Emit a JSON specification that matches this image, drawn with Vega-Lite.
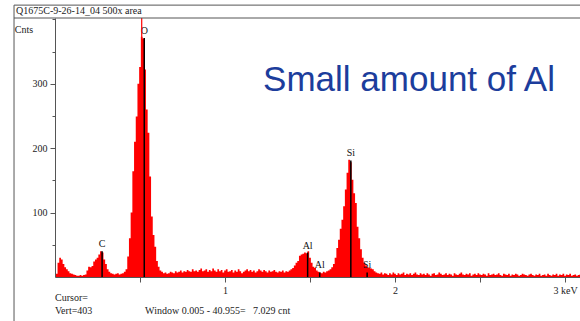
{
  "$schema": "https://vega.github.io/schema/vega-lite/v6.json",
  "width": 525,
  "height": 259,
  "autosize": {"type": "none"},
  "padding": {"left": 55, "top": 18, "right": 0, "bottom": 44},
  "background": "white",
  "config": {"view": {"stroke": null}, "font": "Liberation Serif"},
  "resolve": {"axis": {"x": "independent", "y": "independent"}},
  "datasets": {
    "spectrum": [
      {"e":0.00,"c":0},{"e":0.01,"c":5},{"e":0.02,"c":22},{"e":0.03,"c":30},{"e":0.04,"c":27},{"e":0.05,"c":20},{"e":0.06,"c":15},{"e":0.07,"c":12},{"e":0.08,"c":9},{"e":0.09,"c":6},
      {"e":0.10,"c":5},{"e":0.11,"c":4},{"e":0.12,"c":3},{"e":0.13,"c":2},{"e":0.14,"c":2},{"e":0.15,"c":3},{"e":0.16,"c":2},{"e":0.17,"c":3},{"e":0.18,"c":4},{"e":0.19,"c":10},
      {"e":0.20,"c":16},{"e":0.21,"c":15},{"e":0.22,"c":17},{"e":0.23,"c":24},{"e":0.24,"c":27},{"e":0.25,"c":30},{"e":0.26,"c":35},{"e":0.27,"c":40},{"e":0.28,"c":38},{"e":0.29,"c":27},
      {"e":0.30,"c":20},{"e":0.31,"c":12},{"e":0.32,"c":8},{"e":0.33,"c":6},{"e":0.34,"c":5},{"e":0.35,"c":4},{"e":0.36,"c":5},{"e":0.37,"c":6},{"e":0.38,"c":4},{"e":0.39,"c":5},
      {"e":0.40,"c":6},{"e":0.41,"c":8},{"e":0.42,"c":12},{"e":0.43,"c":32},{"e":0.44,"c":60},{"e":0.45,"c":100},{"e":0.46,"c":164},{"e":0.47,"c":210},{"e":0.48,"c":249},{"e":0.49,"c":300},
      {"e":0.50,"c":326},{"e":0.51,"c":373},{"e":0.52,"c":370},{"e":0.53,"c":322},{"e":0.54,"c":260},{"e":0.55,"c":224},{"e":0.56,"c":156},{"e":0.57,"c":94},{"e":0.58,"c":65},{"e":0.59,"c":47},
      {"e":0.60,"c":25},{"e":0.61,"c":16},{"e":0.62,"c":10},{"e":0.63,"c":8},{"e":0.64,"c":6},{"e":0.65,"c":7},{"e":0.66,"c":5},{"e":0.67,"c":6},{"e":0.68,"c":8},{"e":0.69,"c":7},
      {"e":0.70,"c":6},{"e":0.71,"c":9},{"e":0.72,"c":7},{"e":0.73,"c":8},{"e":0.74,"c":10},{"e":0.75,"c":7},{"e":0.76,"c":9},{"e":0.77,"c":8},{"e":0.78,"c":11},{"e":0.79,"c":9},
      {"e":0.80,"c":8},{"e":0.81,"c":12},{"e":0.82,"c":9},{"e":0.83,"c":10},{"e":0.84,"c":8},{"e":0.85,"c":11},{"e":0.86,"c":13},{"e":0.87,"c":9},{"e":0.88,"c":10},{"e":0.89,"c":12},
      {"e":0.90,"c":8},{"e":0.91,"c":11},{"e":0.92,"c":9},{"e":0.93,"c":13},{"e":0.94,"c":10},{"e":0.95,"c":8},{"e":0.96,"c":12},{"e":0.97,"c":9},{"e":0.98,"c":11},{"e":0.99,"c":7},
      {"e":1.00,"c":10},{"e":1.01,"c":12},{"e":1.02,"c":8},{"e":1.03,"c":9},{"e":1.04,"c":11},{"e":1.05,"c":7},{"e":1.06,"c":10},{"e":1.07,"c":8},{"e":1.08,"c":12},{"e":1.09,"c":9},
      {"e":1.10,"c":6},{"e":1.11,"c":8},{"e":1.12,"c":10},{"e":1.13,"c":12},{"e":1.14,"c":9},{"e":1.15,"c":11},{"e":1.16,"c":8},{"e":1.17,"c":10},{"e":1.18,"c":7},{"e":1.19,"c":9},
      {"e":1.20,"c":12},{"e":1.21,"c":10},{"e":1.22,"c":8},{"e":1.23,"c":11},{"e":1.24,"c":9},{"e":1.25,"c":7},{"e":1.26,"c":10},{"e":1.27,"c":8},{"e":1.28,"c":9},{"e":1.29,"c":11},
      {"e":1.30,"c":8},{"e":1.31,"c":7},{"e":1.32,"c":9},{"e":1.33,"c":8},{"e":1.34,"c":10},{"e":1.35,"c":7},{"e":1.36,"c":9},{"e":1.37,"c":8},{"e":1.38,"c":10},{"e":1.39,"c":12},
      {"e":1.40,"c":14},{"e":1.41,"c":18},{"e":1.42,"c":22},{"e":1.43,"c":25},{"e":1.44,"c":33},{"e":1.45,"c":35},{"e":1.46,"c":36},{"e":1.47,"c":38},{"e":1.48,"c":37},{"e":1.49,"c":40},
      {"e":1.50,"c":30},{"e":1.51,"c":22},{"e":1.52,"c":16},{"e":1.53,"c":14},{"e":1.54,"c":10},{"e":1.55,"c":8},{"e":1.56,"c":7},{"e":1.57,"c":6},{"e":1.58,"c":8},{"e":1.59,"c":7},
      {"e":1.60,"c":9},{"e":1.61,"c":10},{"e":1.62,"c":12},{"e":1.63,"c":15},{"e":1.64,"c":20},{"e":1.65,"c":30},{"e":1.66,"c":45},{"e":1.67,"c":58},{"e":1.68,"c":75},{"e":1.69,"c":89},
      {"e":1.70,"c":110},{"e":1.71,"c":136},{"e":1.72,"c":162},{"e":1.73,"c":182},{"e":1.74,"c":178},{"e":1.75,"c":151},{"e":1.76,"c":130},{"e":1.77,"c":115},{"e":1.78,"c":78},{"e":1.79,"c":60},
      {"e":1.80,"c":43},{"e":1.81,"c":30},{"e":1.82,"c":22},{"e":1.83,"c":18},{"e":1.84,"c":15},{"e":1.85,"c":14},{"e":1.86,"c":13},{"e":1.87,"c":12},{"e":1.88,"c":9},{"e":1.89,"c":7},
      {"e":1.90,"c":6},{"e":1.91,"c":5},{"e":1.92,"c":7},{"e":1.93,"c":4},{"e":1.94,"c":6},{"e":1.95,"c":5},{"e":1.96,"c":3},{"e":1.97,"c":6},{"e":1.98,"c":4},{"e":1.99,"c":7},
      {"e":2.00,"c":5},{"e":2.01,"c":3},{"e":2.02,"c":6},{"e":2.03,"c":4},{"e":2.04,"c":5},{"e":2.05,"c":7},{"e":2.06,"c":3},{"e":2.07,"c":5},{"e":2.08,"c":4},{"e":2.09,"c":6},
      {"e":2.10,"c":3},{"e":2.11,"c":5},{"e":2.12,"c":7},{"e":2.13,"c":4},{"e":2.14,"c":3},{"e":2.15,"c":6},{"e":2.16,"c":4},{"e":2.17,"c":5},{"e":2.18,"c":3},{"e":2.19,"c":6},
      {"e":2.20,"c":4},{"e":2.21,"c":2},{"e":2.22,"c":5},{"e":2.23,"c":6},{"e":2.24,"c":3},{"e":2.25,"c":4},{"e":2.26,"c":7},{"e":2.27,"c":5},{"e":2.28,"c":3},{"e":2.29,"c":4},
      {"e":2.30,"c":6},{"e":2.31,"c":3},{"e":2.32,"c":5},{"e":2.33,"c":4},{"e":2.34,"c":2},{"e":2.35,"c":6},{"e":2.36,"c":4},{"e":2.37,"c":3},{"e":2.38,"c":5},{"e":2.39,"c":7},
      {"e":2.40,"c":4},{"e":2.41,"c":3},{"e":2.42,"c":5},{"e":2.43,"c":4},{"e":2.44,"c":6},{"e":2.45,"c":2},{"e":2.46,"c":4},{"e":2.47,"c":5},{"e":2.48,"c":3},{"e":2.49,"c":6},
      {"e":2.50,"c":4},{"e":2.51,"c":3},{"e":2.52,"c":5},{"e":2.53,"c":4},{"e":2.54,"c":2},{"e":2.55,"c":6},{"e":2.56,"c":3},{"e":2.57,"c":4},{"e":2.58,"c":5},{"e":2.59,"c":3},
      {"e":2.60,"c":4},{"e":2.61,"c":6},{"e":2.62,"c":3},{"e":2.63,"c":2},{"e":2.64,"c":5},{"e":2.65,"c":4},{"e":2.66,"c":3},{"e":2.67,"c":5},{"e":2.68,"c":2},{"e":2.69,"c":4},
      {"e":2.70,"c":3},{"e":2.71,"c":5},{"e":2.72,"c":4},{"e":2.73,"c":2},{"e":2.74,"c":3},{"e":2.75,"c":5},{"e":2.76,"c":4},{"e":2.77,"c":3},{"e":2.78,"c":2},{"e":2.79,"c":4},
      {"e":2.80,"c":5},{"e":2.81,"c":3},{"e":2.82,"c":2},{"e":2.83,"c":4},{"e":2.84,"c":3},{"e":2.85,"c":5},{"e":2.86,"c":2},{"e":2.87,"c":3},{"e":2.88,"c":4},{"e":2.89,"c":2},
      {"e":2.90,"c":5},{"e":2.91,"c":3},{"e":2.92,"c":2},{"e":2.93,"c":4},{"e":2.94,"c":3},{"e":2.95,"c":5},{"e":2.96,"c":2},{"e":2.97,"c":4},{"e":2.98,"c":3},{"e":2.99,"c":5},
      {"e":3.00,"c":2},{"e":3.01,"c":4},{"e":3.02,"c":3},{"e":3.03,"c":5},{"e":3.04,"c":2},{"e":3.05,"c":3},{"e":3.06,"c":4},{"e":3.07,"c":2},{"e":3.08,"c":3},{"e":3.09,"c":4}
    ],
    "markers": [
      {"el":"C","e":0.277,"c":40},
      {"el":"O","e":0.525,"c":371},
      {"el":"Al","e":1.486,"c":38},
      {"el":"Si","e":1.74,"c":181},
      {"el":"Al","e":1.557,"c":7},
      {"el":"Si","e":1.836,"c":7}
    ],
    "notes": [
      {"text":"Q1675C-9-26-14_04 500x area","e":-0.229,"c":413},
      {"text":"Cnts","e":-0.237,"c":384},
      {"text":"Cursor=","e":0.0,"c":-32},
      {"text":"Vert=403","e":0.0,"c":-52},
      {"text":"Window 0.005 - 40.955=\u00a0\u00a0 7.029 cnt","e":0.53,"c":-52}
    ]
  },
  "layer": [
    {
      "data": {"name": "spectrum"},
      "mark": {"type": "area", "interpolate": "step", "color": "#ff0000", "clip": true},
      "encoding": {
        "x": {
          "field": "e", "type": "quantitative",
          "scale": {"domain": [0, 3.088], "nice": false, "zero": false},
          "axis": {
            "title": null, "grid": false, "zindex": 2, "orient": "bottom",
            "values": [0.5, 1, 1.5, 2, 2.5, 3],
            "labelExpr": "datum.value == 3 ? '3 keV' : (datum.value == 1 ? '1' : (datum.value == 2 ? '2' : ''))",
            "domainColor": "#555", "tickColor": "#555", "tickSize": 5,
            "labelFont": "Liberation Serif", "labelFontSize": 10, "labelColor": "#222",
            "labelPadding": 3, "labelFlush": false, "labelOverlap": false
          }
        },
        "y": {
          "field": "c", "type": "quantitative",
          "scale": {"domain": [0, 402], "nice": false},
          "axis": {
            "title": null, "grid": false, "zindex": 2, "orient": "left",
            "values": [50, 100, 150, 200, 250, 300, 350, 400],
            "labelExpr": "(datum.value == 100 || datum.value == 200 || datum.value == 300) ? datum.label : ''",
            "domainColor": "#555", "tickColor": "#555",
            "tickSize": {"condition": {"test": "datum.value == 100 || datum.value == 200 || datum.value == 300", "value": 5}, "value": 3},
            "labelFont": "Liberation Serif", "labelFontSize": 10, "labelColor": "#222",
            "labelPadding": 3, "labelFlush": false, "labelOverlap": false
          }
        }
      }
    },
    {
      "data": {"name": "markers"},
      "mark": {"type": "rule", "color": "#000000", "strokeWidth": 1.5},
      "encoding": {
        "x": {"field": "e", "type": "quantitative", "axis": null},
        "y": {"field": "c", "type": "quantitative", "axis": null},
        "y2": {"datum": 0}
      }
    },
    {
      "data": {"name": "markers"},
      "mark": {"type": "text", "baseline": "bottom", "dy": -2, "font": "Liberation Serif", "fontSize": 10, "color": "#111"},
      "encoding": {
        "x": {"field": "e", "type": "quantitative", "axis": null},
        "y": {"field": "c", "type": "quantitative", "axis": null},
        "text": {"field": "el"}
      }
    },
    {
      "data": {"values": [{"e": 0.51}]},
      "mark": {"type": "rule", "color": "#ff0000", "strokeWidth": 1.2},
      "encoding": {
        "x": {"field": "e", "type": "quantitative", "axis": null},
        "y": {"datum": 0, "axis": null},
        "y2": {"datum": 402}
      }
    },
    {
      "data": {"values": [{"frame": "box"}]},
      "mark": {"type": "rule", "color": "#555", "strokeWidth": 1, "clip": false},
      "encoding": {"x": {"datum": -0.241, "axis": null}, "x2": {"datum": 3.2}, "y": {"datum": 422, "axis": null}}
    },
    {
      "data": {"values": [{"frame": "box"}]},
      "mark": {"type": "rule", "color": "#555", "strokeWidth": 1, "clip": false},
      "encoding": {"x": {"datum": -0.241, "axis": null}, "x2": {"datum": 3.2}, "y": {"datum": 402, "axis": null}}
    },
    {
      "data": {"values": [{"frame": "box"}]},
      "mark": {"type": "rule", "color": "#555", "strokeWidth": 1, "clip": false},
      "encoding": {"x": {"datum": -0.241, "axis": null}, "y": {"datum": 422, "axis": null}, "y2": {"datum": -80}}
    },
    {
      "data": {"name": "notes"},
      "mark": {"type": "text", "align": "left", "baseline": "middle", "font": "Liberation Serif", "fontSize": 10, "color": "#222", "clip": false},
      "encoding": {
        "x": {"field": "e", "type": "quantitative", "axis": null},
        "y": {"field": "c", "type": "quantitative", "axis": null},
        "text": {"field": "text"}
      }
    },
    {
      "data": {"values": [{"text": "Small amount of Al", "e": 1.224, "c": 288}]},
      "mark": {"type": "text", "align": "left", "baseline": "alphabetic", "font": "Liberation Sans", "fontSize": 35, "color": "#1c3d9c"},
      "encoding": {
        "x": {"field": "e", "type": "quantitative", "axis": null},
        "y": {"field": "c", "type": "quantitative", "axis": null},
        "text": {"field": "text"}
      }
    }
  ]
}
